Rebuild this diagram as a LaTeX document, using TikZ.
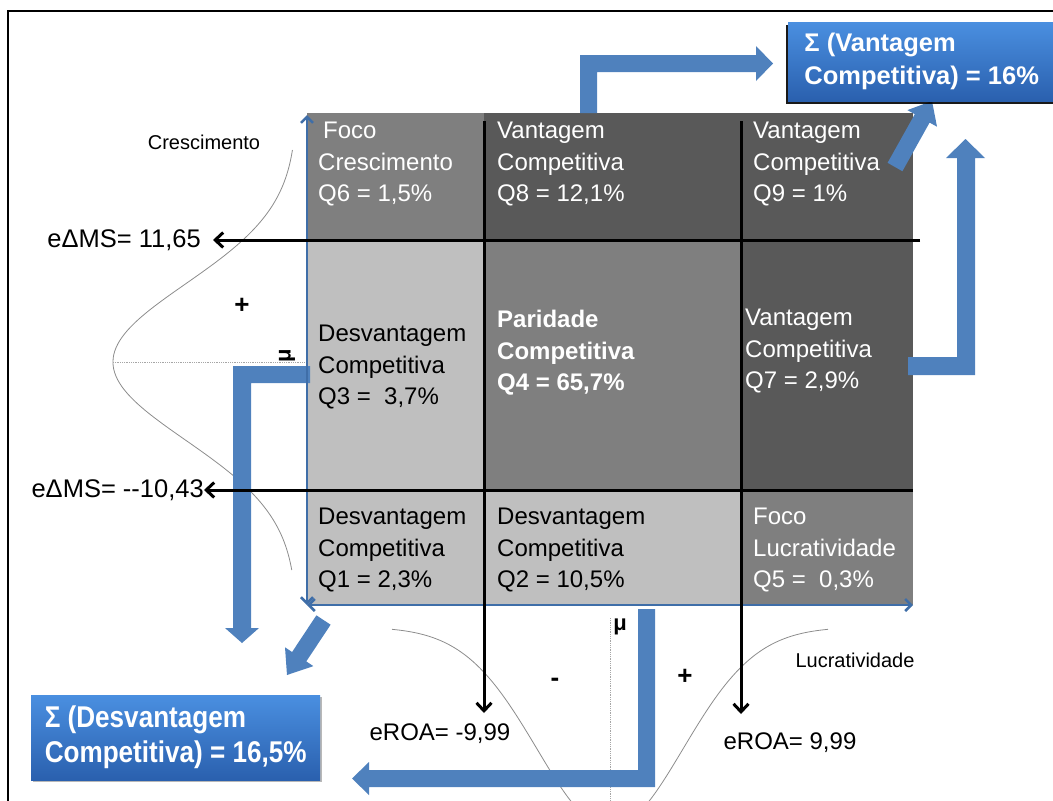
\documentclass[tikz,border=0pt]{standalone}
\usepackage{fontspec}
\setmainfont{Liberation Sans}
\newfontfamily\narrowbold{Liberation Sans}[FakeStretch=0.87]
\usetikzlibrary{arrows.meta,shadows}

\definecolor{blockblue}{HTML}{4F81BD}
\definecolor{axisblue}{HTML}{3F6EA8}
\definecolor{darkcell}{HTML}{595959}
\definecolor{midcell}{HTML}{7F7F7F}
\definecolor{lightcell}{HTML}{BFBFBF}
\definecolor{boxtop}{HTML}{4A8FE0}
\definecolor{boxbottom}{HTML}{2A60AE}
\definecolor{curvegray}{HTML}{8C8C8C}
\definecolor{dotgray}{HTML}{A6A6A6}

\begin{document}
\begin{tikzpicture}[x=1pt,y=-1pt,
  celltext/.style={anchor=north west,inner sep=0pt,align=left,
    font=\fontsize{24}{31.5}\selectfont},
  whitetext/.style={celltext,text=white},
  blacktext/.style={celltext,text=black},
  lbl/.style={inner sep=0pt,font=\fontsize{25.5}{30}\selectfont},
  roalbl/.style={inner sep=0pt,font=\fontsize{24}{28}\selectfont},
  axislbl/.style={inner sep=0pt,font=\fontsize{20}{24}\selectfont},
  signlbl/.style={inner sep=0pt,font=\bfseries\fontsize{26}{30}\selectfont},
  blackarrow/.style={line width=3pt,-{Straight Barb[length=8pt,width=15pt]}},
  axisline/.style={draw=axisblue,line width=2.5pt,
    {Straight Barb[length=6pt,width=12pt]}-{Straight Barb[length=6pt,width=12pt]}},
  blockarrow/.style={fill=blockblue},
  curve/.style={draw=curvegray,line width=0.8pt},
  guide/.style={draw=dotgray,line width=0.8pt,densely dotted},
]
\useasboundingbox (0,0) rectangle (1053,801);
\clip (0,0) rectangle (1053,801);

% outer frame
\draw[line width=2pt] (8,801) -- (8,11) -- (1053,11);

% quadrant cells
\fill[midcell]   (307,113) rectangle (484,240);
\fill[darkcell]  (484,113) rectangle (913,240);
\fill[lightcell] (307,240) rectangle (484,490);
\fill[midcell]   (484,240) rectangle (741,490);
\fill[darkcell]  (741,240) rectangle (913,490);
\fill[lightcell] (307,490) rectangle (741,605);
\fill[midcell]   (741,490) rectangle (913,605);

% cell texts
\node[whitetext] (q6) at (318,122) {\hspace*{5pt}Foco\\Crescimento\\Q6 = 1,5\%};
\node[whitetext] (q8) at (497,122) {Vantagem\\Competitiva\\Q8 = 12,1\%};
\node[whitetext] (q9) at (753,122) {Vantagem\\Competitiva\\Q9 = 1\%};
\node[blacktext] (q3) at (318,325) {Desvantagem\\Competitiva\\Q3 = \ 3,7\%};
\node[whitetext,font=\bfseries\fontsize{24}{31.5}\selectfont] (q4) at (497,310)
  {Paridade\\Competitiva\\Q4 = 65,7\%};
\node[whitetext] (q7) at (745,309) {Vantagem\\Competitiva\\Q7 = 2,9\%};
\node[blacktext] (q1) at (318,508) {Desvantagem\\Competitiva\\Q1 = 2,3\%};
\node[blacktext] (q2) at (497,508) {Desvantagem\\Competitiva\\Q2 = 10,5\%};
\node[whitetext] (q5) at (753,508) {Foco\\Lucratividade\\Q5 = \ 0,3\%};

% normal curves along both axes
\draw[curve] plot[domain=150:570,samples=120]
  ({297-184*exp(-0.5*((\x-362)/78)*((\x-362)/78))},\x);
\draw[curve] plot[domain=392:828,samples=120]
  (\x,{627+201*exp(-0.5*((\x-610)/73)*((\x-610)/73))});
\draw[guide] (113,362) -- (307,362);
\draw[guide] (610,618) -- (610,801);

% mean markers
\node[inner sep=0pt,font=\bfseries\fontsize{22}{24}\selectfont,rotate=90] (muv) at (287,356) {μ};
\node[inner sep=0pt,font=\bfseries\fontsize{22}{24}\selectfont] (muh) at (620,627) {μ};

% axis and side labels
\node[axislbl] (cresc) at (204,142) {Crescimento};
\node[axislbl] (lucr) at (855,660) {Lucratividade};
\node[signlbl] (plusv) at (242,306) {+};
\node[signlbl] (minush) at (555,682) {-};
\node[signlbl] (plush) at (685,677) {+};

% block arrows
\fill[blockblue] (580,113) -- (580,55) -- (756,55) -- (756,46) -- (773,63.5)
  -- (756,81) -- (756,72) -- (597,72) -- (597,113) -- cycle;
\fill[blockblue] (887.6,162.8) -- (914.8,114.2) -- (907.4,110.1) -- (932,101)
  -- (937.0,126.7) -- (929.6,122.6) -- (902.4,171.2) -- cycle;
\fill[blockblue] (908,357) -- (957,357) -- (957,158) -- (946,158) -- (965.5,139)
  -- (985,158) -- (975,158) -- (975,375) -- (908,375) -- cycle;
\fill[blockblue] (310,366) -- (233,366) -- (233,628) -- (225,628) -- (242,643)
  -- (259,628) -- (251,628) -- (251,383) -- (310,383) -- cycle;
\fill[blockblue] (316.4,615.3) -- (292.1,652.0) -- (285.0,647.3) -- (287,675)
  -- (313.4,666.1) -- (306.3,661.4) -- (330.6,624.7) -- cycle;
\fill[blockblue] (638,609) -- (638,770) -- (369,770) -- (369,762) -- (352,778.5)
  -- (369,795) -- (369,787) -- (655,787) -- (655,609) -- cycle;

% axes
\draw[axisline] (307,605) -- (307,115);
\draw[axisline] (307,605) -- (913,605);

% threshold lines
\node[lbl,anchor=east,inner xsep=12pt] (msHigh) at (213,240) {eΔMS= 11,65};
\node[lbl,anchor=east] (msLow) at (204,490) {eΔMS= -{}-10,43};
\coordinate (hA) at (920,240);
\coordinate (hB) at (913,490);
\draw[blackarrow] (hA) -- (msHigh.east);
\draw[blackarrow] (hB) -- (msLow.east);

\coordinate (vA) at (484,121);
\coordinate (vAtip) at (484,713);
\coordinate (vB) at (741,121);
\coordinate (vBtip) at (741,714);
\draw[blackarrow] (vA) -- (vAtip);
\draw[blackarrow] (vB) -- (vBtip);
\node[roalbl] (roaNeg) at (440,734) {eROA= -9,99};
\node[roalbl] (roaPos) at (790,743) {eROA= 9,99};

% totals
\node[anchor=north west,minimum width=275pt,minimum height=79pt,inner xsep=14pt,
  align=left,text=white,top color=boxtop,bottom color=boxbottom,
  drop shadow={shadow xshift=-2.5pt,shadow yshift=-3pt,fill=black,opacity=0.9},
  font=\bfseries\fontsize{25.5}{33}\selectfont] (vant) at (788,22)
  {Σ~(Vantagem\\Competitiva)~=~16\%\hspace*{8pt}};
\node[anchor=north west,minimum width=289pt,minimum height=85pt,inner xsep=12pt,
  align=left,text=white,top color=boxtop,bottom color=boxbottom,
  drop shadow={shadow xshift=2pt,shadow yshift=-2pt,fill=gray!70,opacity=0.8},
  font=\narrowbold\bfseries\fontsize{30}{35}\selectfont] (desv) at (31,695)
  {Σ~(Desvantagem\\Competitiva)~=~16,5\%};
\end{tikzpicture}
\end{document}
